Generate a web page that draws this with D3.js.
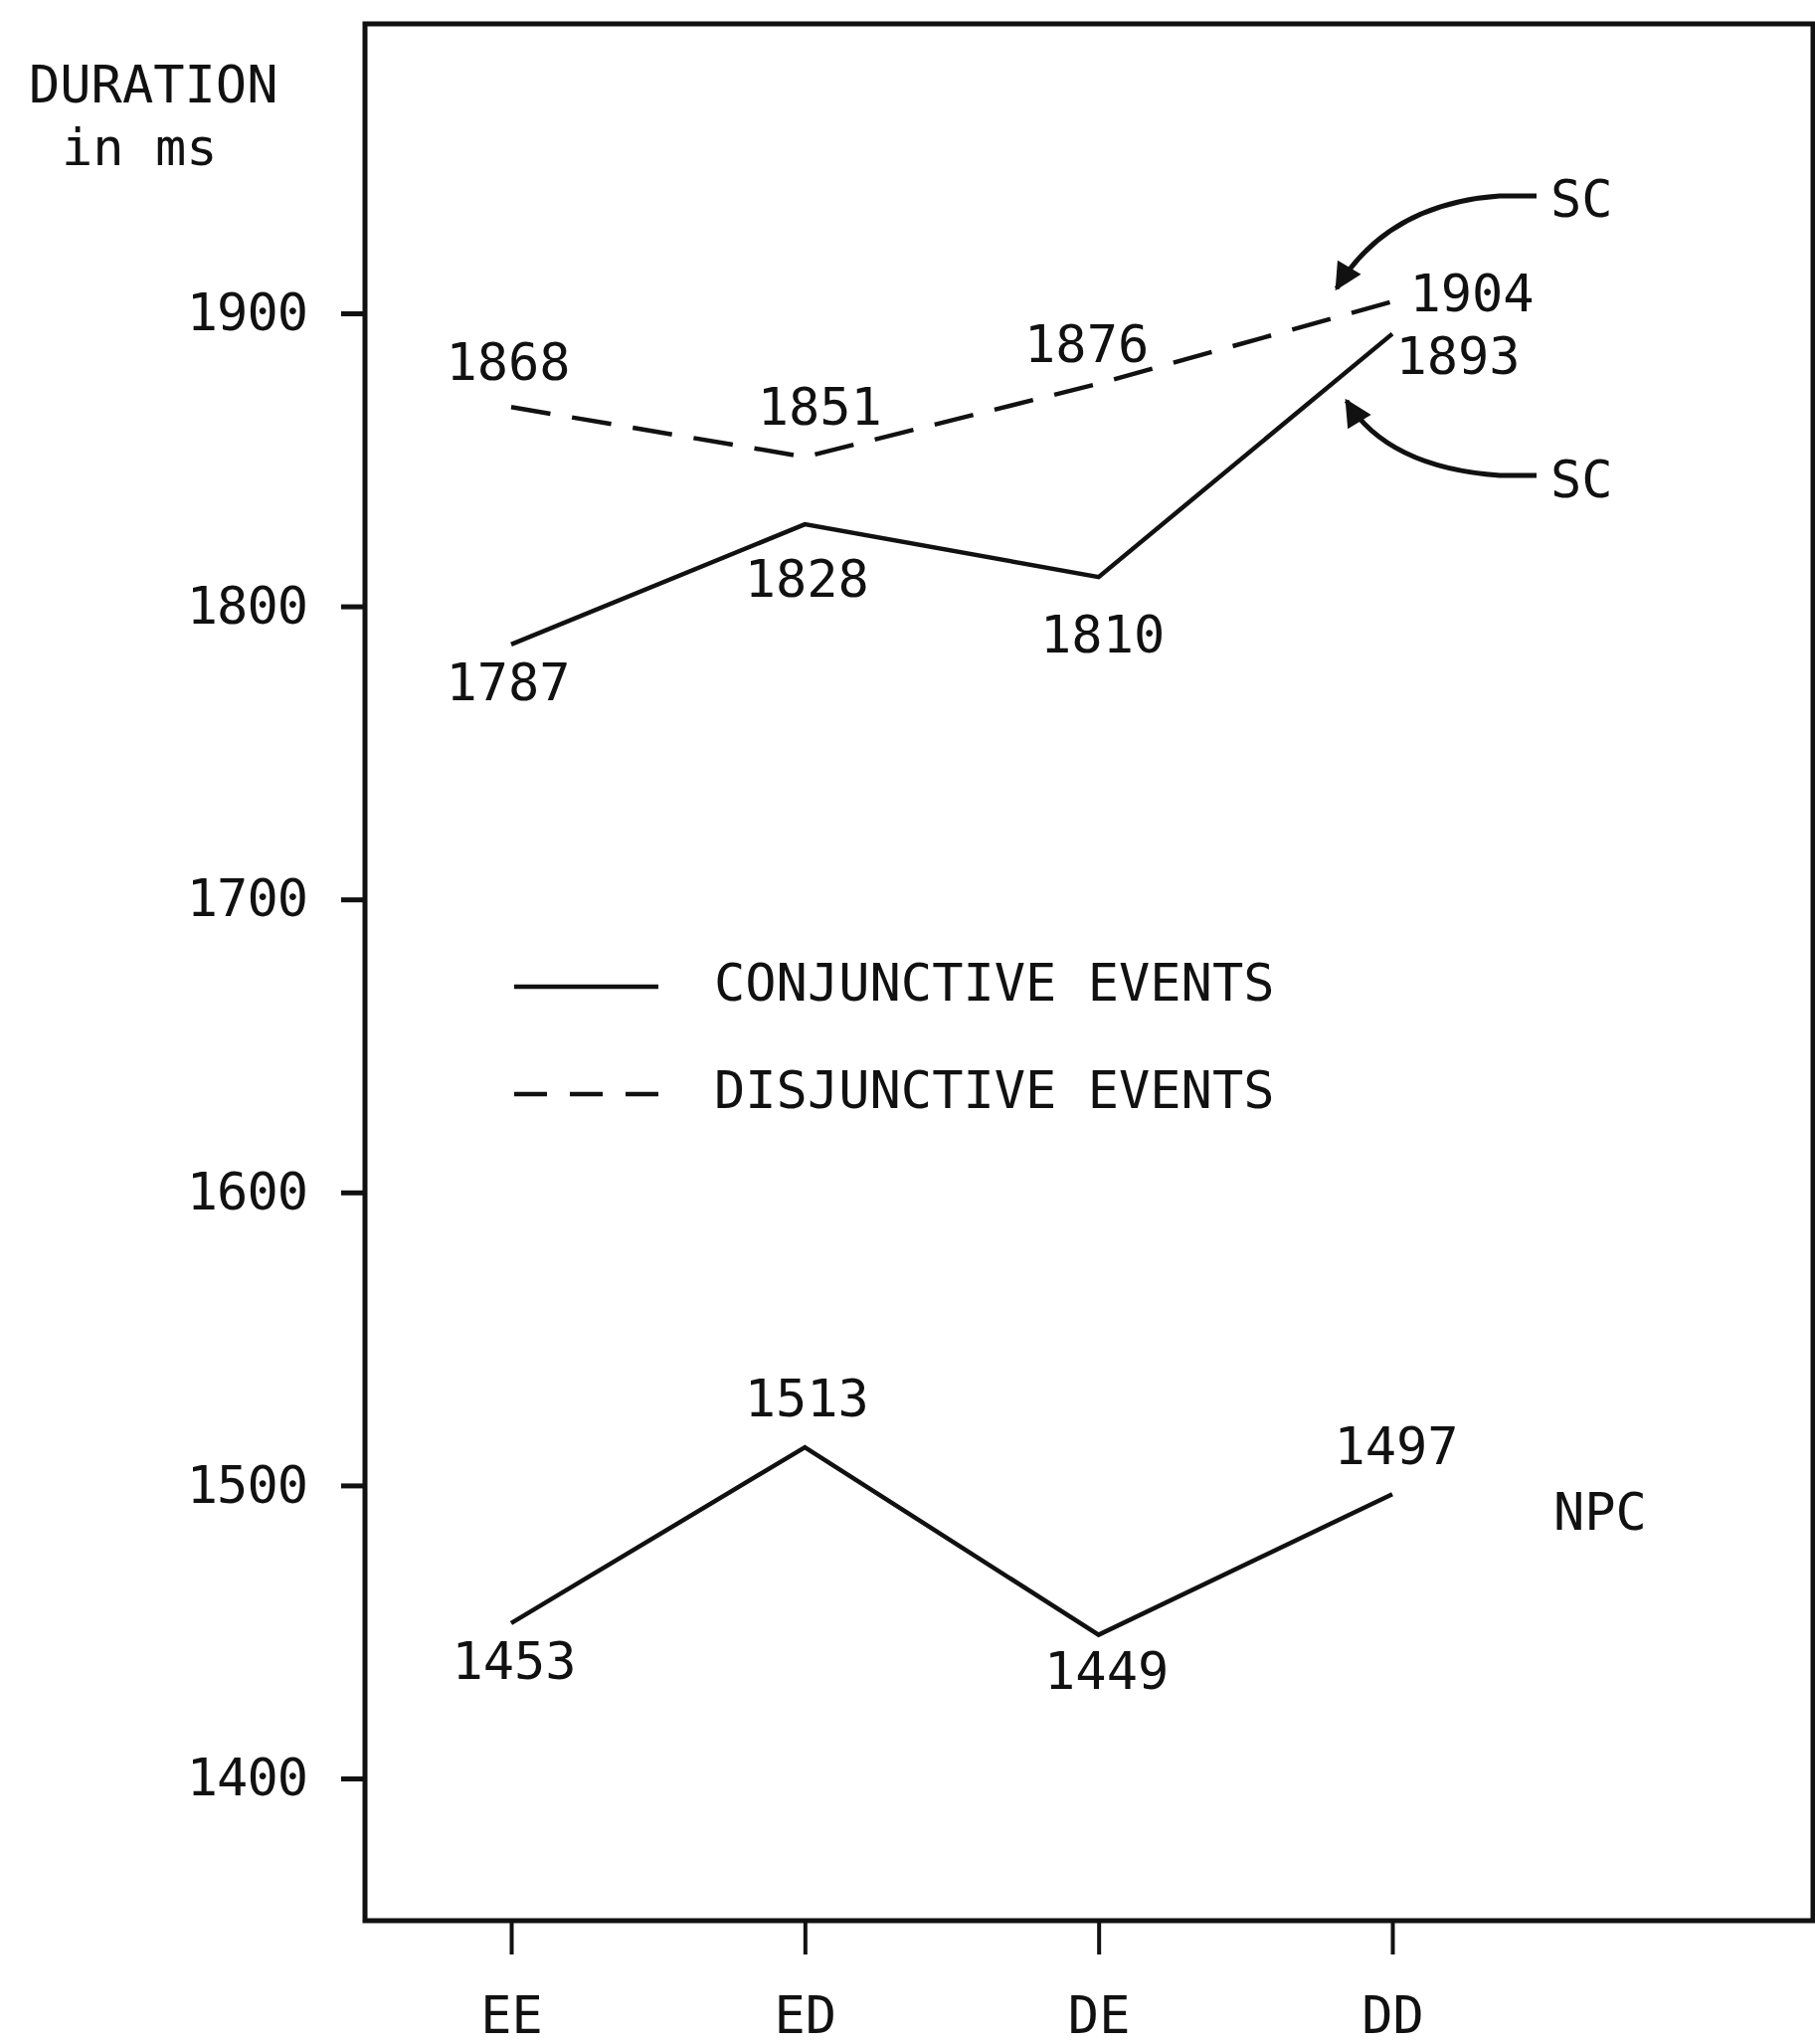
<!DOCTYPE html>
<html><head><meta charset="utf-8">
<script src="https://cdn.jsdelivr.net/npm/d3@7"></script>
<style>
html,body{margin:0;padding:0;background:#fff;}
text{font-family:"DejaVu Sans Mono",monospace;fill:#111;}
</style></head>
<body>
<svg id="chart" width="1825" height="2055"></svg>
<script>
// ---- data ----
const categories = ["EE", "ED", "DE", "DD"];
const scDisjunctive = [1868, 1851, 1876, 1904];
const scConjunctive = [1787, 1828, 1810, 1893];
const npcConjunctive = [1453, 1513, 1449, 1497];
const yTicks = [1400, 1500, 1600, 1700, 1800, 1900];
const legendLabels = ["CONJUNCTIVE EVENTS", "DISJUNCTIVE EVENTS"];

// ---- layout ----
const svg = d3.select("#chart");
const frame = {left: 367, top: 24, right: 1823, bottom: 1931};
const x = d3.scalePoint().domain(categories).range([514, 1400]);
const y = d3.scaleLinear().domain([1400, 1900]).range([1788, 315]);
const ink = "#111";
const fontSize = 52, ls = "0px";

// frame
svg.append("rect").attr("x", frame.left).attr("y", frame.top)
  .attr("width", frame.right - frame.left).attr("height", frame.bottom - frame.top)
  .attr("fill", "none").attr("stroke", ink).attr("stroke-width", 5);

// y axis
const yAxis = svg.append("g").attr("transform", `translate(${frame.left},0)`)
  .call(d3.axisLeft(y).tickValues(yTicks).tickSize(24).tickPadding(34).tickFormat(d3.format("d")));
yAxis.select(".domain").remove();
yAxis.selectAll(".tick line").attr("stroke", ink).attr("stroke-width", 5);
yAxis.selectAll(".tick text").attr("font-size", fontSize).attr("letter-spacing", "-1px")
  .attr("font-family", "DejaVu Sans Mono").attr("fill", ink);

// x axis
const xAxis = svg.append("g").attr("transform", `translate(0,${frame.bottom})`)
  .call(d3.axisBottom(x).tickSize(34).tickPadding(42));
xAxis.select(".domain").remove();
xAxis.selectAll(".tick line").attr("stroke", ink).attr("stroke-width", 4);
xAxis.selectAll(".tick text").attr("font-size", fontSize).attr("letter-spacing", ls)
  .attr("font-family", "DejaVu Sans Mono").attr("fill", ink);

// y title
svg.append("text").attr("x", 29).attr("y", 85).attr("dominant-baseline", "central")
  .attr("font-size", fontSize).attr("letter-spacing", ls).text("DURATION");
svg.append("text").attr("x", 62).attr("y", 148).attr("dominant-baseline", "central")
  .attr("font-size", fontSize).attr("letter-spacing", ls).text("in ms");

// lines
const line = d3.line().x((d, i) => x(categories[i])).y(d => y(d));
svg.append("path").datum(scDisjunctive).attr("d", line).attr("fill", "none")
  .attr("stroke", ink).attr("stroke-width", 4.5).attr("stroke-dasharray", "40,22");
svg.append("path").datum(scConjunctive).attr("d", line).attr("fill", "none")
  .attr("stroke", ink).attr("stroke-width", 4.5);
svg.append("path").datum(npcConjunctive).attr("d", line).attr("fill", "none")
  .attr("stroke", ink).attr("stroke-width", 4.5);

// value labels (offsets are layout)
function labels(values, offsets) {
  values.forEach((v, i) => {
    svg.append("text").attr("x", x(categories[i]) + offsets[i][0]).attr("y", y(v) + offsets[i][1])
      .attr("text-anchor", "middle").attr("dominant-baseline", "central")
      .attr("font-size", fontSize).attr("letter-spacing", ls).text(v);
  });
}
labels(scDisjunctive, [[-3, -45], [15, -50], [-12, -40], [80, -8]]);
labels(scConjunctive, [[-3, 38], [2, 55], [4, 58], [66, 22]]);
labels(npcConjunctive, [[3, 38], [2, -49], [8, 36], [4, -48]]);

// group labels and arrows
const defs = svg.append("defs");
defs.append("marker").attr("id", "ah").attr("viewBox", "0 0 10 10").attr("refX", 9).attr("refY", 5)
  .attr("markerWidth", 9).attr("markerHeight", 5.5).attr("orient", "auto").attr("markerUnits", "strokeWidth")
  .append("path").attr("d", "M0,0 L10,5 L0,10 z").attr("fill", ink);

svg.append("text").attr("x", 1559).attr("y", 200).attr("dominant-baseline", "central")
  .attr("font-size", fontSize).attr("letter-spacing", ls).text("SC");
svg.append("text").attr("x", 1559).attr("y", 482).attr("dominant-baseline", "central")
  .attr("font-size", fontSize).attr("letter-spacing", ls).text("SC");
svg.append("text").attr("x", 1562).attr("y", 1520).attr("dominant-baseline", "central")
  .attr("font-size", fontSize).attr("letter-spacing", ls).text("NPC");

svg.append("path").attr("d", "M1545,197 L1508,197 Q1395,205 1344,290")
  .attr("fill", "none").attr("stroke", ink).attr("stroke-width", 5).attr("marker-end", "url(#ah)");
svg.append("path").attr("d", "M1545,478 L1508,478 Q1395,470 1354,403")
  .attr("fill", "none").attr("stroke", ink).attr("stroke-width", 5).attr("marker-end", "url(#ah)");

// legend
const legend = svg.append("g");
legendLabels.forEach((t, i) => {
  const ly = [992, 1100][i];
  legend.append("line").attr("x1", 517).attr("x2", 662).attr("y1", ly).attr("y2", ly)
    .attr("stroke", ink).attr("stroke-width", 4.5).attr("stroke-dasharray", i ? "33,23" : null);
  legend.append("text").attr("x", 718).attr("y", ly - 4).attr("dominant-baseline", "central")
    .attr("font-size", fontSize).attr("letter-spacing", ls).text(t);
});
</script>
</body></html>
